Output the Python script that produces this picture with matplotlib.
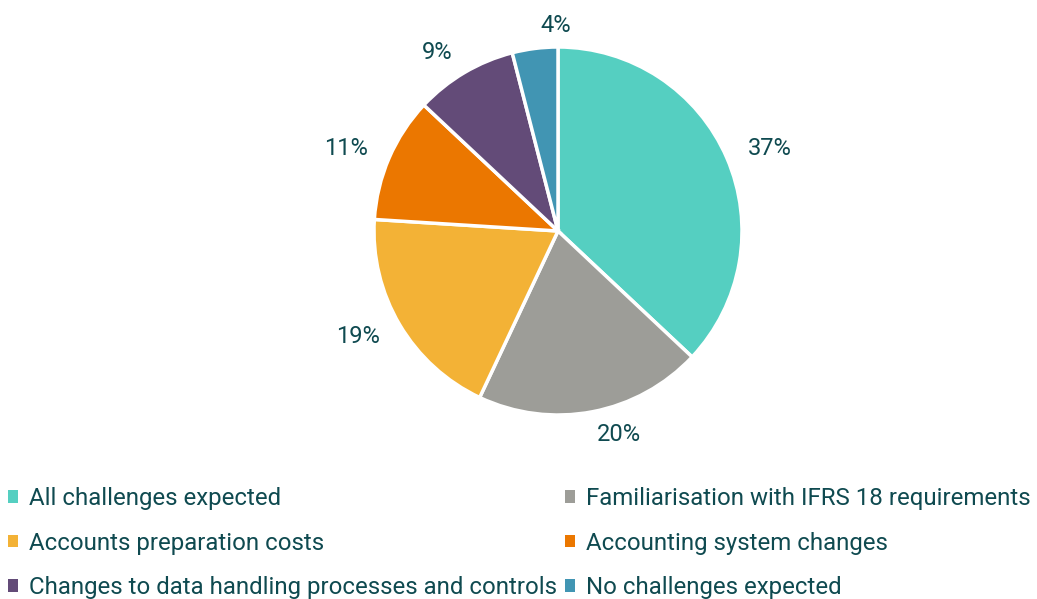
import matplotlib
matplotlib.use("Agg")
import matplotlib.pyplot as plt
from matplotlib.patches import Patch
import numpy as np

categories = ["All challenges expected", "Familiarisation with IFRS 18 requirements",
              "Accounts preparation costs", "Accounting system changes",
              "Changes to data handling processes and controls", "No challenges expected"]
values = [37, 20, 19, 11, 9, 4]
colors = ["#55cfc1", "#9d9d98", "#f3b236", "#eb7700", "#634b78", "#4195b3"]
text_color = "#0f4a50"

plt.rcParams['font.family'] = ['Roboto', 'DejaVu Sans']

W, H = 1037, 599
fig = plt.figure(figsize=(W/100, H/100), dpi=100)
cx, cy, r = 558, 599-231, 184
half = 250
ax = fig.add_axes([(cx-half)/W, (cy-half)/H, 2*half/W, 2*half/H])
wedges, _ = ax.pie(values, colors=colors, startangle=90, counterclock=False,
                   radius=1, wedgeprops=dict(edgecolor="white", linewidth=2.5))
R = 207 / r
for w, v in zip(wedges, values):
    mid = np.deg2rad((w.theta1 + w.theta2) / 2)
    x, y = R * np.cos(mid), R * np.sin(mid)
    if abs(np.cos(mid)) < 0.15:
        ha = 'center'
        x = x + 0.13
    else:
        ha = 'left' if np.cos(mid) > 0 else 'right'
    ax.text(x, y, f"{v}%", ha=ha, va='center', color=text_color, fontsize=17)
ax.set_xlim(-half/r, half/r)
ax.set_ylim(-half/r, half/r)
ax.set_aspect('equal')
ax.axis('off')

order = [0, 2, 4, 1, 3, 5]
handles = [Patch(facecolor=colors[i], edgecolor='none') for i in order]
labels = [categories[i] for i in order]
leg = fig.legend(handles, labels, ncol=2, loc='upper left', bbox_to_anchor=(8/W, 1-487/H),
                 frameon=False, fontsize=17.3, handlelength=0.42, handleheight=0.42,
                 handletextpad=0.45, columnspacing=0.35, labelspacing=0.9,
                 borderaxespad=0, borderpad=0)
for t in leg.get_texts():
    t.set_color(text_color)
fig.savefig("out.png", dpi=100)
